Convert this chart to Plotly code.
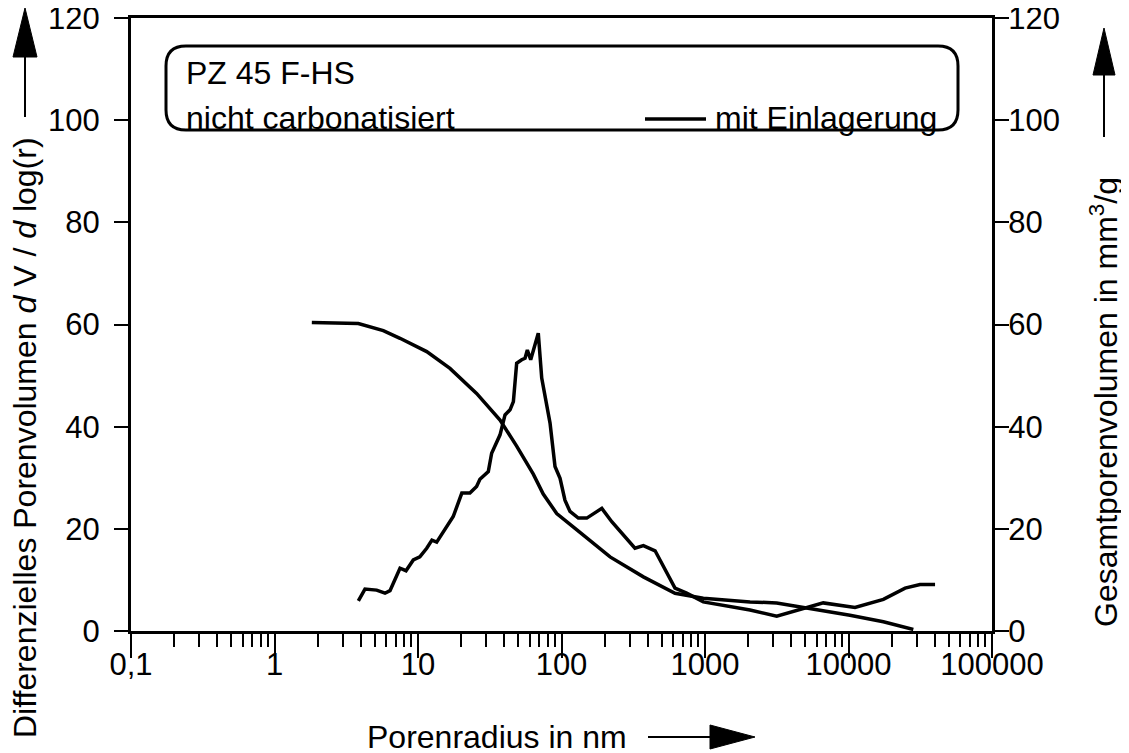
import plotly.graph_objects as go

# differential pore volume dV/dlog(r) (left axis)
diff_radius = [3.84, 4.27, 5.15, 5.89, 6.38, 6.92, 7.49, 8.25, 9.27, 10.3, 11.5, 12.5, 13.5,
               17.6, 20.2, 23.0, 25.6, 27.0, 29.3, 30.9, 32.6, 37.3, 40.4, 43.8, 46.2, 48.7,
               52.8, 55.7, 57.8, 61.0, 68.9, 72.8, 83.2, 90.1, 97.7, 105.7, 114.6, 131, 150,
               191, 224, 325, 372, 449, 618, 745, 973, 2060, 3160, 6670, 11100, 17500,
               24800, 31500, 40100]
diff_volume = [5.9, 8.2, 8.0, 7.4, 7.9, 10.3, 12.3, 11.8, 13.9, 14.5, 16.2, 17.8, 17.4,
               22.4, 27.0, 27.0, 28.3, 29.7, 30.5, 31.2, 34.8, 38.4, 42.3, 43.3, 44.9, 52.4,
               53.1, 53.4, 55.0, 53.1, 58.3, 49.5, 40.7, 32.2, 29.9, 25.6, 23.4, 22.1, 22.1,
               24.0, 21.4, 16.2, 16.7, 15.7, 8.4, 7.4, 5.7, 4.1, 2.9, 5.5, 4.6, 6.2,
               8.4, 9.1, 9.1]

# cumulative pore volume (right axis)
cum_radius = [1.82, 3.84, 5.73, 7.49, 11.5, 16.7, 25.6, 37.3, 48.7, 63.6, 74.6, 92.6, 128,
              218, 372, 618, 973, 2060, 3160, 5390, 10230, 17500, 28300]
cum_volume = [60.4, 60.2, 58.8, 57.3, 54.7, 51.4, 46.5, 41.3, 36.2, 30.7, 26.8, 23.0, 19.8,
              14.5, 10.6, 7.4, 6.4, 5.7, 5.5, 4.4, 3.1, 1.8, 0.3]

x_tickvals = [0.1, 1, 10, 100, 1000, 10000, 100000]
x_ticktext = ["0,1", "1", "10", "100", "1000", "10000", "100000"]
y_tickvals = [0, 20, 40, 60, 80, 100, 120]

W, H = 1129, 753
OFF = 8  # page body margin
L, R, T, B = 131, 992, 18, 631  # plot area in screen pixels
FONT = "Liberation Sans, Arial, sans-serif"
FS = 32
TICK_FS = 31


def px(x):
    return (x - L) / (R - L)


def py(y):
    return (B - y) / (B - T)


def main():
    fig = go.Figure()
    fig.add_trace(go.Scatter(x=diff_radius, y=diff_volume, mode="lines",
                             line=dict(color="black", width=3.5), showlegend=False))
    fig.add_trace(go.Scatter(x=cum_radius, y=cum_volume, mode="lines", yaxis="y2",
                             line=dict(color="black", width=3.5), showlegend=False))

    shapes = []
    # rounded legend box
    x0, x1, y0, y1, r = 166, 958, 46, 130, 20
    rx, ry = r / (R - L), r / (B - T)
    X0, X1, Y0, Y1 = px(x0), px(x1), py(y0), py(y1)
    path = (f"M {X0+rx},{Y0} L {X1-rx},{Y0} Q {X1},{Y0} {X1},{Y0-ry} "
            f"L {X1},{Y1+ry} Q {X1},{Y1} {X1-rx},{Y1} L {X0+rx},{Y1} "
            f"Q {X0},{Y1} {X0},{Y1+ry} L {X0},{Y0-ry} Q {X0},{Y0} {X0+rx},{Y0} Z")
    shapes.append(dict(type="path", xref="paper", yref="paper", path=path,
                       line=dict(color="black", width=3)))
    # legend sample line
    shapes.append(dict(type="line", xref="paper", yref="paper",
                       x0=px(645), x1=px(706), y0=py(119), y1=py(119),
                       line=dict(color="black", width=3.5)))

    # arrows
    def v_arrow(cx, tip, base, end, hw):
        shapes.append(dict(type="line", xref="paper", yref="paper",
                           x0=px(cx), x1=px(cx), y0=py(base), y1=py(end),
                           line=dict(color="black", width=2)))
        shapes.append(dict(type="path", xref="paper", yref="paper",
                           path=f"M {px(cx)},{py(tip)} L {px(cx-hw)},{py(base)} L {px(cx+hw)},{py(base)} Z",
                           fillcolor="black", line=dict(color="black", width=1)))

    v_arrow(25, 8, 57, 117, 12)
    v_arrow(1104, 28, 75, 137, 11)
    # x arrow
    cy = 737
    shapes.append(dict(type="line", xref="paper", yref="paper",
                       x0=px(648), x1=px(712), y0=py(cy), y1=py(cy),
                       line=dict(color="black", width=2)))
    shapes.append(dict(type="path", xref="paper", yref="paper",
                       path=f"M {px(755)},{py(cy)} L {px(710)},{py(cy-12)} L {px(710)},{py(cy+12)} Z",
                       fillcolor="black", line=dict(color="black", width=1)))

    font = dict(family=FONT, size=FS, color="black")
    tfont = dict(family=FONT, size=TICK_FS, color="black")
    annotations = [
        dict(text="PZ 45 F-HS", x=px(184), y=py(73), xref="paper", yref="paper",
             xanchor="left", yanchor="middle", showarrow=False, font=font),
        dict(text="nicht carbonatisiert", x=px(184), y=py(118), xref="paper", yref="paper",
             xanchor="left", yanchor="middle", showarrow=False, font=font),
        dict(text="mit Einlagerung", x=px(713), y=py(118), xref="paper", yref="paper",
             xanchor="left", yanchor="middle", showarrow=False, font=font),
        dict(text="Porenradius in nm", x=px(497), y=py(737), xref="paper", yref="paper",
             xanchor="center", yanchor="middle", showarrow=False, font=font),
        dict(text="Differenzielles Porenvolumen <i>d</i> V / <i>d</i> log(r)",
             x=px(25), y=py(438), xref="paper", yref="paper", textangle=-90,
             xanchor="center", yanchor="middle", showarrow=False, font=font),
        dict(text="Gesamtporenvolumen in mm<sup>3</sup>/g",
             x=px(1104), y=py(402), xref="paper", yref="paper", textangle=-90,
             xanchor="center", yanchor="middle", showarrow=False, font=font),
    ]

    fig.update_layout(
        width=W, height=H, autosize=False,
        margin=dict(l=L - OFF, r=W - (R - OFF), t=T - OFF, b=H - (B - OFF), pad=0),
        plot_bgcolor="white", paper_bgcolor="white",
        font=font,
        xaxis=dict(type="log", range=[-1, 5], tickvals=x_tickvals, ticktext=x_ticktext,
                   showgrid=False, zeroline=False, showline=True, linecolor="black",
                   linewidth=3, mirror=True, ticks="outside", ticklen=24, tickwidth=2,
                   tickcolor="black", tickfont=tfont, automargin=False,
                   ticklabelstandoff=-20, ticklabeloverflow="allow",
                   minor=dict(ticks="outside", ticklen=13, tickwidth=2, tickcolor="black",
                              dtick="D1", showgrid=False)),
        yaxis=dict(range=[0, 120], tickvals=y_tickvals, showgrid=False, zeroline=False,
                   showline=True, linecolor="black", linewidth=3, ticks="outside",
                   ticklen=14, tickwidth=2, tickcolor="black", tickfont=tfont,
                   automargin=False, ticklabelstandoff=8, ticklabeloverflow="allow"),
        yaxis2=dict(range=[0, 120], tickvals=y_tickvals, overlaying="y", side="right",
                    showgrid=False, zeroline=False, showline=True, linecolor="black",
                    linewidth=3, ticks="outside", ticklen=14, tickwidth=2,
                    tickcolor="black", tickfont=tfont, automargin=False,
                    ticklabelstandoff=-7, ticklabeloverflow="allow"),
        shapes=shapes,
        annotations=annotations,
    )

    fig.write_html("out.html")


if __name__ == "__main__":
    main()
